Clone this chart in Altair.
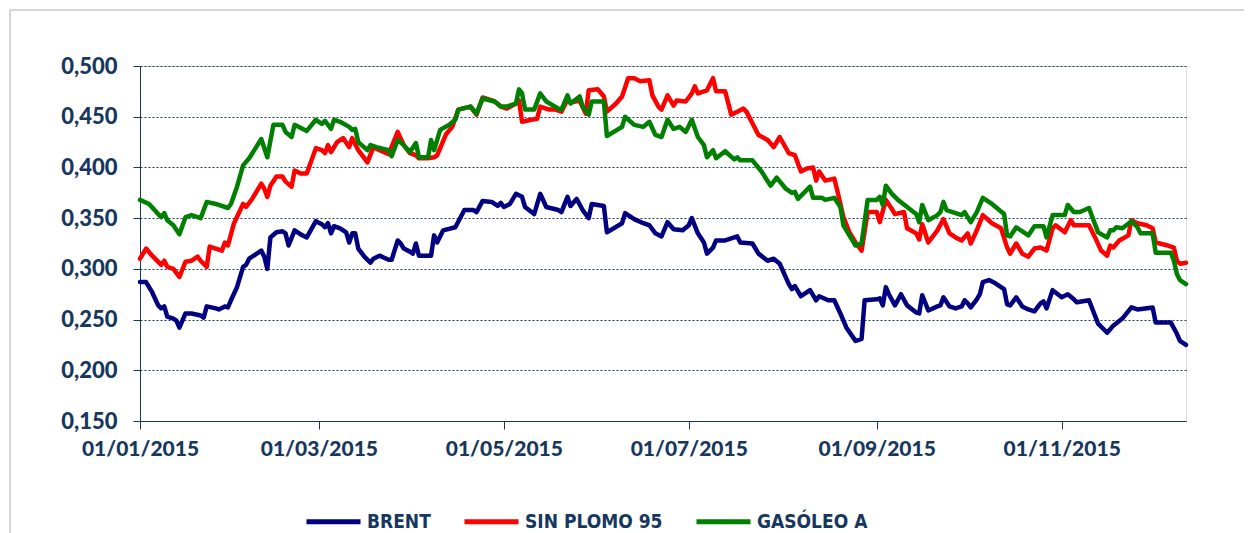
import altair as alt
import pandas as pd

# Day offsets from 2015-01-01 and values
BRENT_DAYS = [0, 2, 4, 6, 7, 8, 9, 11, 12, 13, 15, 17, 20, 21, 22, 25, 26, 28, 29, 30, 32, 34, 35, 36, 40, 41, 42, 43, 45, 47, 48, 49, 51, 53, 55, 58, 60, 61, 62, 63, 64, 66, 68, 69, 70, 71, 72, 74, 76, 77, 79, 82, 83, 85, 86, 87, 89, 90, 91, 92, 96, 97, 98, 100, 104, 107, 110, 111, 113, 116, 118, 119, 120, 122, 124, 126, 127, 130, 132, 134, 138, 139, 141, 142, 144, 146, 148, 149, 153, 154, 159, 160, 163, 166, 168, 170, 172, 174, 176, 179, 181, 182, 184, 186, 187, 189, 190, 193, 197, 198, 202, 204, 207, 209, 211, 214, 215, 216, 218, 221, 223, 224, 227, 229, 231, 233, 236, 238, 239, 243, 244, 245, 246, 247, 249, 251, 253, 256, 257, 258, 260, 263, 264, 265, 267, 269, 271, 272, 273, 274, 276, 277, 278, 280, 282, 285, 286, 287, 289, 291, 293, 295, 297, 298, 299, 301, 304, 306, 308, 309, 313, 316, 319, 321, 324, 327, 329, 334, 335, 340, 342, 343, 345]
BRENT_VALUES = [0.287, 0.287, 0.277, 0.264, 0.261, 0.263, 0.253, 0.251, 0.249, 0.242, 0.256, 0.256, 0.254, 0.252, 0.263, 0.261, 0.260, 0.263, 0.262, 0.269, 0.282, 0.302, 0.304, 0.310, 0.318, 0.312, 0.300, 0.331, 0.336, 0.337, 0.335, 0.323, 0.338, 0.334, 0.331, 0.347, 0.344, 0.341, 0.345, 0.335, 0.342, 0.340, 0.336, 0.326, 0.335, 0.335, 0.320, 0.312, 0.306, 0.310, 0.313, 0.309, 0.309, 0.328, 0.325, 0.320, 0.317, 0.315, 0.325, 0.313, 0.313, 0.333, 0.326, 0.338, 0.341, 0.358, 0.358, 0.356, 0.367, 0.366, 0.362, 0.365, 0.361, 0.364, 0.374, 0.371, 0.361, 0.354, 0.374, 0.361, 0.358, 0.356, 0.371, 0.362, 0.369, 0.358, 0.350, 0.364, 0.362, 0.336, 0.345, 0.355, 0.349, 0.345, 0.343, 0.335, 0.332, 0.346, 0.339, 0.338, 0.343, 0.350, 0.335, 0.326, 0.315, 0.321, 0.328, 0.328, 0.332, 0.326, 0.325, 0.315, 0.308, 0.310, 0.305, 0.285, 0.280, 0.283, 0.273, 0.279, 0.269, 0.273, 0.269, 0.269, 0.256, 0.242, 0.229, 0.231, 0.269, 0.270, 0.271, 0.264, 0.282, 0.275, 0.264, 0.275, 0.264, 0.257, 0.256, 0.274, 0.259, 0.263, 0.264, 0.272, 0.263, 0.261, 0.263, 0.269, 0.266, 0.262, 0.270, 0.275, 0.287, 0.289, 0.286, 0.280, 0.265, 0.264, 0.272, 0.263, 0.260, 0.258, 0.266, 0.268, 0.261, 0.279, 0.272, 0.275, 0.270, 0.267, 0.269, 0.246, 0.237, 0.244, 0.251, 0.262, 0.260, 0.262, 0.247, 0.247, 0.236, 0.229, 0.225]

SP95_DAYS = [0, 2, 4, 7, 8, 9, 11, 13, 15, 17, 19, 20, 22, 23, 25, 27, 28, 29, 31, 34, 35, 37, 40, 41, 42, 43, 45, 47, 48, 50, 51, 53, 55, 58, 60, 61, 62, 63, 65, 67, 69, 70, 72, 75, 77, 79, 82, 85, 87, 89, 91, 92, 95, 97, 98, 101, 103, 105, 109, 111, 113, 117, 119, 121, 124, 125, 126, 129, 131, 132, 135, 137, 139, 141, 142, 145, 147, 148, 151, 153, 154, 157, 159, 161, 163, 165, 168, 169, 171, 172, 174, 176, 177, 180, 182, 183, 184, 187, 189, 190, 193, 195, 197, 199, 200, 204, 207, 209, 211, 214, 216, 218, 220, 222, 223, 224, 226, 229, 230, 232, 234, 236, 238, 240, 243, 244, 246, 248, 249, 252, 253, 256, 257, 258, 260, 263, 265, 267, 269, 271, 273, 274, 276, 278, 281, 284, 286, 287, 289, 291, 293, 295, 297, 299, 301, 302, 305, 307, 308, 313, 315, 317, 319, 320, 321, 323, 326, 327, 329, 332, 334, 335, 339, 341, 342, 343, 345]
SP95_VALUES = [0.310, 0.320, 0.313, 0.304, 0.308, 0.302, 0.300, 0.292, 0.307, 0.308, 0.312, 0.308, 0.302, 0.322, 0.320, 0.318, 0.326, 0.323, 0.345, 0.364, 0.361, 0.369, 0.384, 0.379, 0.371, 0.382, 0.391, 0.391, 0.386, 0.381, 0.397, 0.394, 0.394, 0.419, 0.417, 0.414, 0.422, 0.415, 0.425, 0.429, 0.420, 0.429, 0.417, 0.405, 0.420, 0.417, 0.413, 0.435, 0.422, 0.414, 0.412, 0.409, 0.409, 0.410, 0.412, 0.433, 0.440, 0.457, 0.460, 0.452, 0.469, 0.465, 0.460, 0.458, 0.463, 0.466, 0.445, 0.447, 0.448, 0.460, 0.457, 0.457, 0.455, 0.467, 0.464, 0.466, 0.453, 0.476, 0.477, 0.470, 0.455, 0.463, 0.470, 0.488, 0.488, 0.485, 0.486, 0.471, 0.460, 0.457, 0.471, 0.461, 0.466, 0.465, 0.473, 0.480, 0.473, 0.476, 0.488, 0.475, 0.475, 0.452, 0.455, 0.458, 0.455, 0.432, 0.427, 0.420, 0.430, 0.414, 0.412, 0.396, 0.399, 0.400, 0.387, 0.396, 0.387, 0.389, 0.377, 0.351, 0.336, 0.326, 0.318, 0.356, 0.356, 0.346, 0.368, 0.359, 0.354, 0.356, 0.340, 0.335, 0.329, 0.344, 0.326, 0.338, 0.349, 0.335, 0.331, 0.328, 0.335, 0.325, 0.338, 0.353, 0.345, 0.340, 0.321, 0.315, 0.325, 0.315, 0.312, 0.320, 0.321, 0.318, 0.340, 0.343, 0.336, 0.348, 0.343, 0.343, 0.331, 0.318, 0.313, 0.323, 0.321, 0.328, 0.333, 0.348, 0.345, 0.343, 0.340, 0.326, 0.323, 0.321, 0.308, 0.305, 0.306]

GASOLEO_DAYS = [0, 3, 6, 7, 8, 9, 11, 13, 15, 17, 20, 22, 25, 29, 30, 32, 34, 36, 40, 42, 44, 47, 48, 50, 51, 55, 58, 60, 61, 63, 64, 66, 69, 70, 71, 72, 75, 76, 78, 82, 83, 85, 87, 89, 91, 92, 95, 96, 97, 99, 102, 104, 105, 109, 111, 113, 117, 119, 121, 124, 125, 126, 127, 130, 132, 134, 138, 139, 141, 142, 145, 146, 148, 149, 153, 154, 159, 160, 163, 166, 168, 170, 172, 174, 176, 178, 180, 182, 184, 186, 187, 189, 190, 193, 196, 197, 198, 202, 205, 208, 210, 213, 215, 216, 217, 221, 222, 225, 226, 229, 231, 232, 236, 238, 240, 243, 244, 245, 246, 248, 250, 253, 256, 257, 258, 260, 263, 264, 265, 266, 269, 271, 272, 274, 276, 278, 281, 285, 286, 287, 289, 292, 293, 295, 298, 299, 301, 305, 306, 308, 310, 313, 316, 319, 320, 321, 322, 324, 327, 329, 330, 334, 335, 340, 341, 342, 343, 345]
GASOLEO_VALUES = [0.368, 0.364, 0.354, 0.351, 0.355, 0.348, 0.343, 0.334, 0.351, 0.353, 0.350, 0.366, 0.364, 0.360, 0.364, 0.381, 0.402, 0.409, 0.428, 0.410, 0.442, 0.442, 0.435, 0.430, 0.442, 0.436, 0.447, 0.443, 0.446, 0.438, 0.447, 0.445, 0.440, 0.437, 0.438, 0.425, 0.417, 0.422, 0.420, 0.417, 0.411, 0.427, 0.422, 0.415, 0.424, 0.410, 0.410, 0.427, 0.417, 0.437, 0.442, 0.447, 0.457, 0.460, 0.453, 0.468, 0.465, 0.460, 0.460, 0.463, 0.477, 0.473, 0.457, 0.457, 0.473, 0.465, 0.458, 0.457, 0.471, 0.463, 0.470, 0.460, 0.452, 0.465, 0.465, 0.431, 0.440, 0.450, 0.442, 0.440, 0.445, 0.432, 0.430, 0.447, 0.438, 0.440, 0.435, 0.447, 0.430, 0.422, 0.410, 0.417, 0.409, 0.416, 0.408, 0.410, 0.407, 0.407, 0.396, 0.382, 0.390, 0.379, 0.375, 0.376, 0.369, 0.381, 0.370, 0.370, 0.368, 0.370, 0.361, 0.343, 0.323, 0.325, 0.368, 0.368, 0.371, 0.363, 0.382, 0.374, 0.368, 0.361, 0.354, 0.346, 0.363, 0.348, 0.353, 0.356, 0.366, 0.358, 0.355, 0.353, 0.356, 0.346, 0.356, 0.370, 0.364, 0.354, 0.333, 0.332, 0.341, 0.335, 0.333, 0.342, 0.342, 0.331, 0.353, 0.353, 0.363, 0.356, 0.356, 0.360, 0.336, 0.331, 0.338, 0.338, 0.341, 0.340, 0.347, 0.341, 0.335, 0.335, 0.316, 0.316, 0.308, 0.295, 0.289, 0.285]

SERIES = ["BRENT", "SIN PLOMO 95", "GASÓLEO A"]
COLORS = ["#000080", "#FF0000", "#008000"]
Y_TICKS = [0.15, 0.20, 0.25, 0.30, 0.35, 0.40, 0.45, 0.50]
X_TICK_MONTHS = [1, 3, 5, 7, 9, 11]
X_END_DAY = 345

TEXT = "#17375E"
AXIS_FONT = "Lato"
LEGEND_FONT = "Liberation Sans Narrow, DejaVu Sans Condensed, Liberation Sans"

start = pd.Timestamp("2015-01-01")
frames = []
for name, days, vals in [
    (SERIES[0], BRENT_DAYS, BRENT_VALUES),
    (SERIES[1], SP95_DAYS, SP95_VALUES),
    (SERIES[2], GASOLEO_DAYS, GASOLEO_VALUES),
]:
    frames.append(pd.DataFrame({
        "fecha": start + pd.to_timedelta(days, unit="D"),
        "valor": vals,
        "serie": name,
        "orden": SERIES.index(name),
    }))
df = pd.concat(frames, ignore_index=True)

x_end = start + pd.Timedelta(days=X_END_DAY)
x_domain = [alt.DateTime(year=2015, month=1, date=1),
            alt.DateTime(year=x_end.year, month=x_end.month, date=x_end.day)]
x_ticks = [alt.DateTime(year=2015, month=m, date=1) for m in X_TICK_MONTHS]

lines = alt.Chart(df).mark_line(strokeWidth=4.5, strokeJoin="round", strokeCap="round").encode(
    x=alt.X("fecha:T",
            scale=alt.Scale(domain=x_domain, nice=False),
            axis=alt.Axis(values=x_ticks, format="%d/%m/%Y", title=None, grid=False,
                          labelFont=AXIS_FONT, labelFontSize=21, labelFontWeight=900,
                          labelColor=TEXT, labelPadding=9, tickSize=8, tickColor=TEXT,
                          domainColor=TEXT, labelFlush=False, labelOverlap=False)),
    y=alt.Y("valor:Q",
            scale=alt.Scale(domain=[0.15, 0.5], nice=False, zero=False),
            axis=alt.Axis(values=Y_TICKS, title=None,
                          labelExpr="replace(format(datum.value, '.3f'), '.', ',')",
                          labelFont=AXIS_FONT, labelFontSize=22, labelFontWeight=900,
                          labelColor=TEXT, labelPadding=16, tickSize=7, tickColor=TEXT,
                          domainColor=TEXT, grid=True, gridColor="#1F3864",
                          gridDash=[2, 2], gridWidth=1)),
    color=alt.Color("serie:N",
                    scale=alt.Scale(domain=SERIES, range=COLORS),
                    legend=alt.Legend(title=None, orient="none", direction="horizontal",
                                      legendX=164, legendY=426, symbolType="stroke",
                                      symbolSize=2916, symbolStrokeWidth=5,
                                      labelFont=LEGEND_FONT, labelFontSize=19,
                                      labelFontWeight="bold", labelColor=TEXT,
                                      labelOffset=4, columnPadding=23, padding=0,
                                      labelLimit=300)),
    order=alt.Order("orden:Q"),
)

frame_df = pd.DataFrame({"k": [0]})
left_border = alt.Chart(frame_df).mark_rule(color="#C8C8C8", strokeWidth=1.5).encode(
    x=alt.value(-130), y=alt.value(-56), y2=alt.value(475))
top_border = alt.Chart(frame_df).mark_rule(color="#C8C8C8", strokeWidth=1.5).encode(
    x=alt.value(-130), x2=alt.value(1110), y=alt.value(-56))

chart = alt.layer(left_border, top_border, lines).properties(
    width=1046, height=355,
    autosize=alt.AutoSizeParams(type="none"),
    padding={"left": 132, "top": 58, "right": 58, "bottom": 120},
).configure_view(stroke=None).configure(background="white")

chart.save("out.html", embed_options={"renderer": "svg", "actions": False})
